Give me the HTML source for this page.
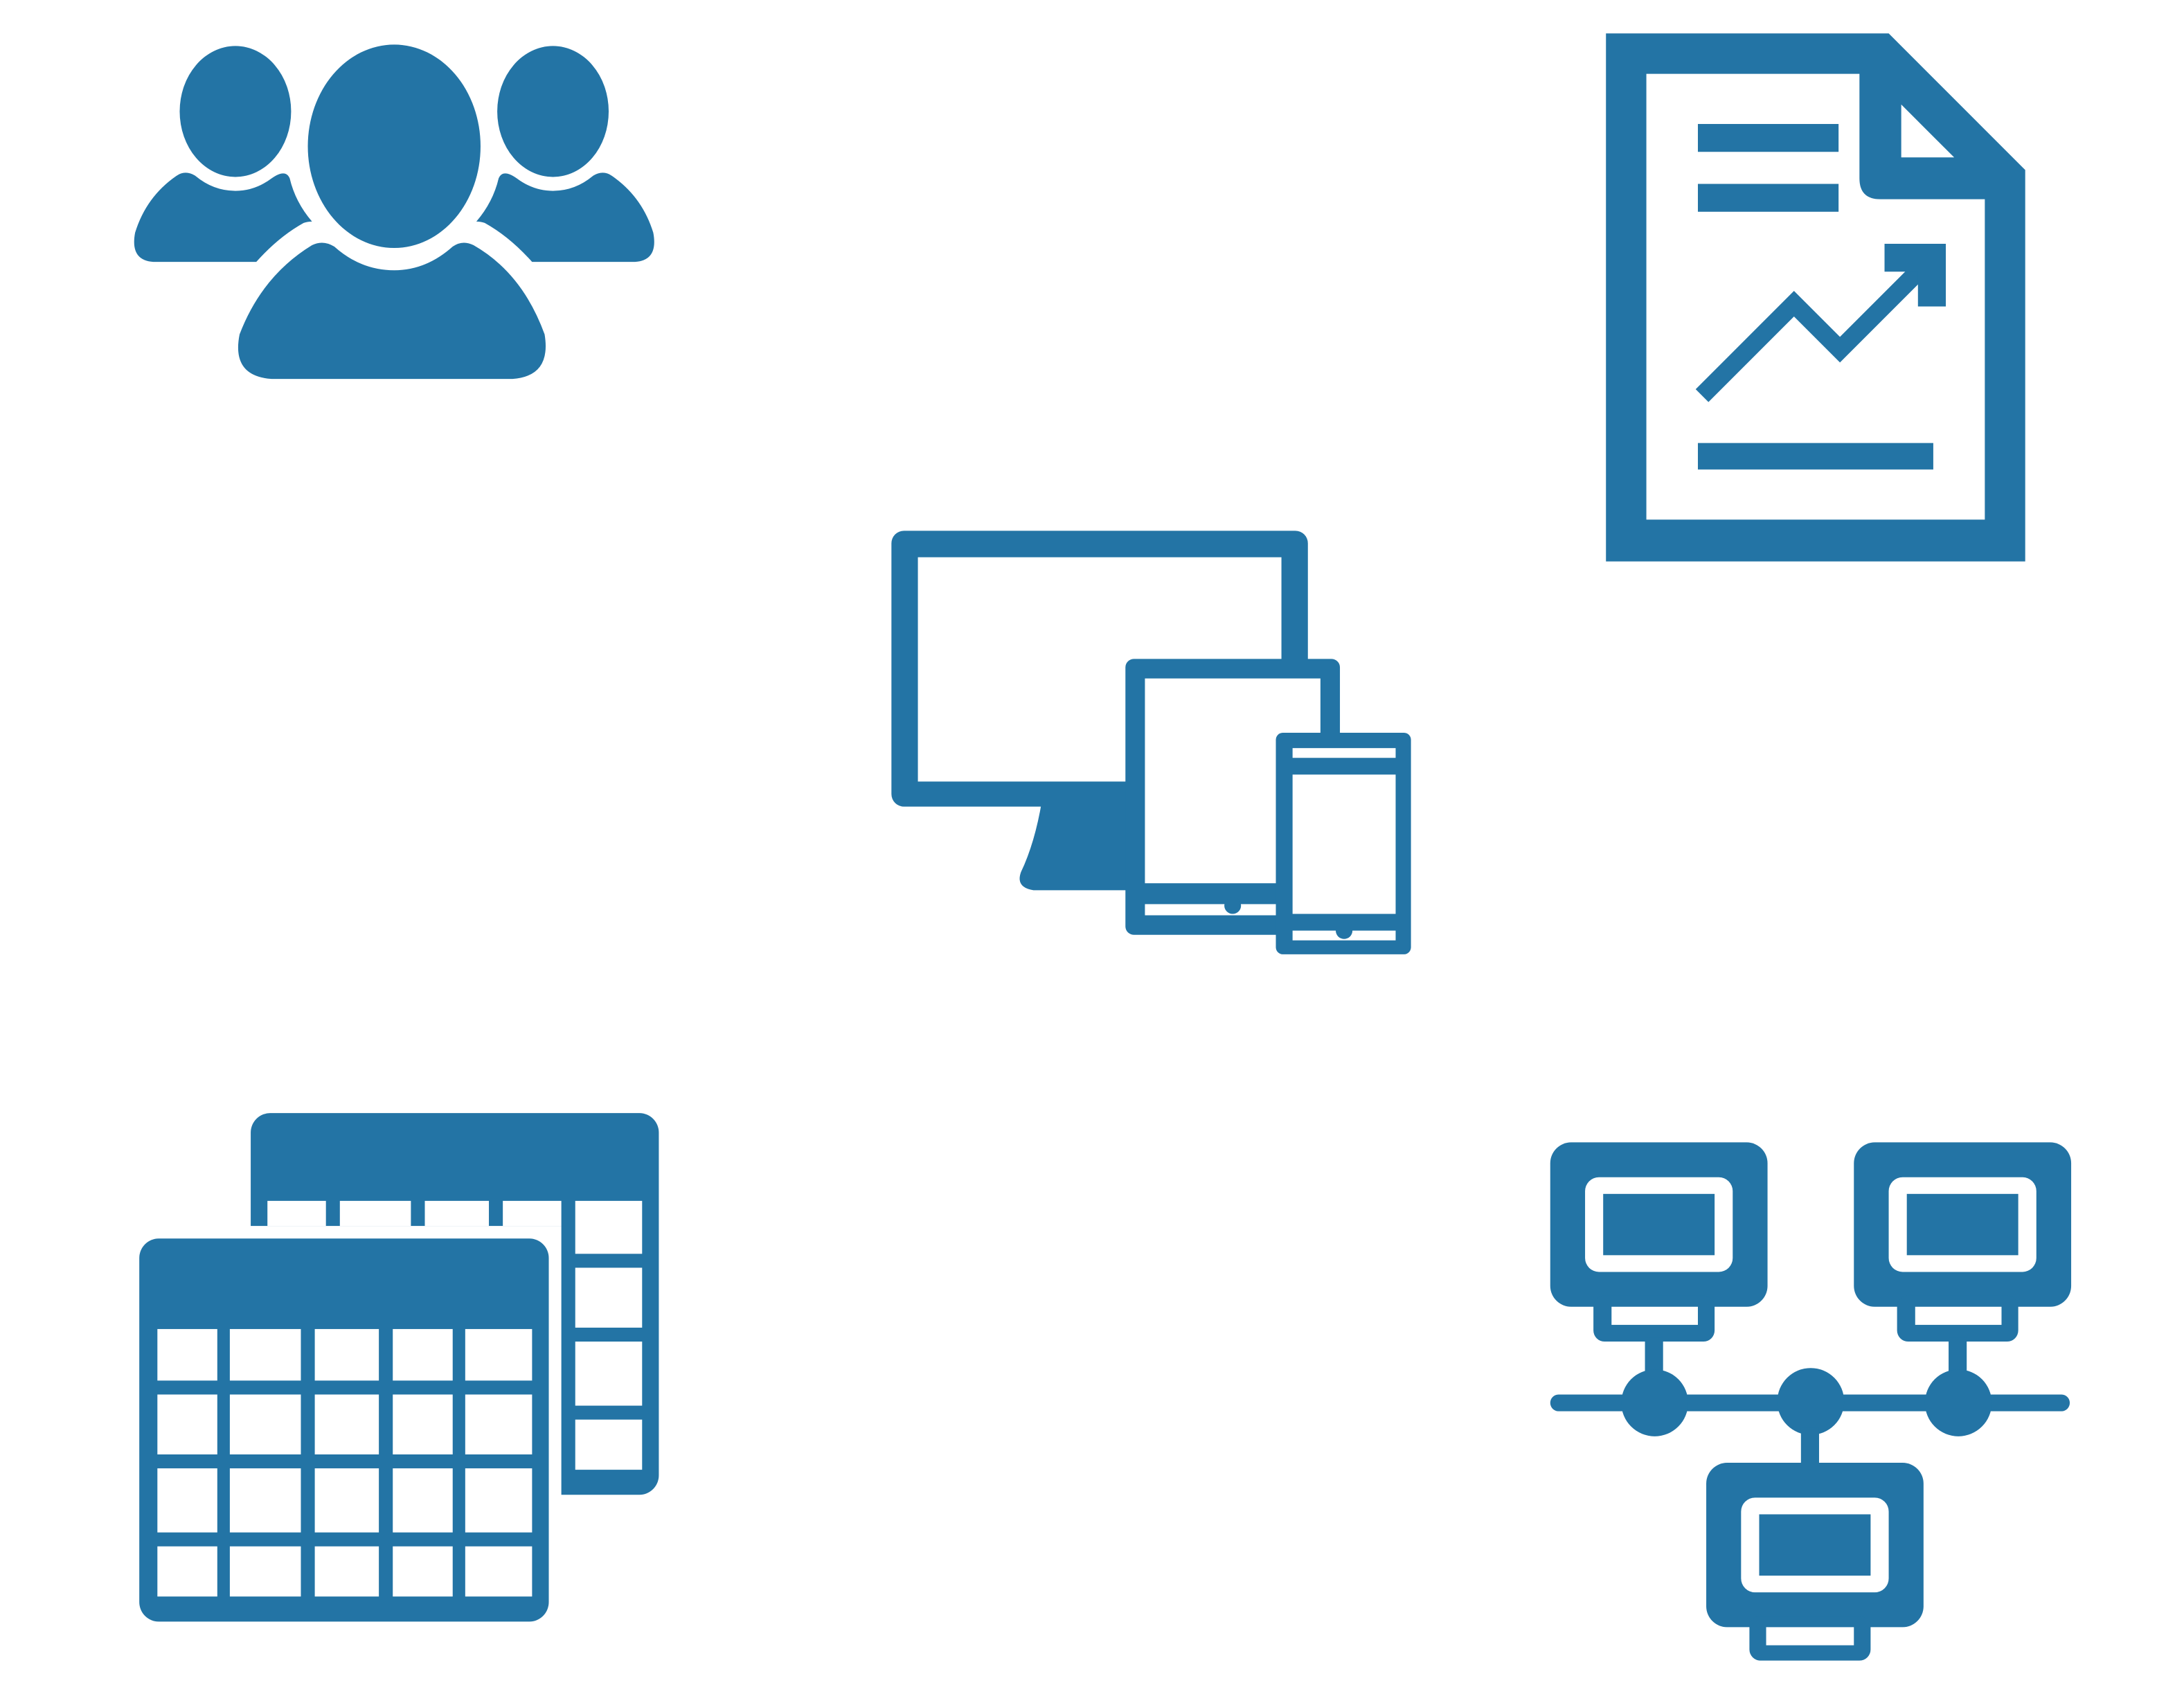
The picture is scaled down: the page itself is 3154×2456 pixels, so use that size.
<!DOCTYPE html>
<html><head><meta charset="utf-8"><style>
html,body{margin:0;padding:0;background:#fff;width:3154px;height:2456px;overflow:hidden}
svg{display:block}
</style></head><body>
<svg width="3154" height="2456" viewBox="0 0 1568 1221" xmlns="http://www.w3.org/2000/svg">
<g fill="#2374a5">
<!-- people -->
<ellipse cx="283" cy="105" rx="62" ry="73"/>
<path d="M195,272 H368 Q396,270 391,240 Q375,196 340,176 Q332,172 325,177 Q306,194 283,194 Q259,194 240,177 Q232,172 224,176 Q188,198 172,240 Q166,270 195,272Z"/>
<ellipse cx="169" cy="80" rx="40" ry="47"/>
<path d="M112,188 H184 Q200,170 218,160 Q221,159 224,159 Q212,145 208,128 Q205,121 195,128 Q183,137 169,137 Q153,137 140,126 Q133,122 127,126 Q105,141 97,167 Q93,188 112,188Z"/>
<g transform="translate(566,0) scale(-1,1)">
<ellipse cx="169" cy="80" rx="40" ry="47"/>
<path d="M112,188 H184 Q200,170 218,160 Q221,159 224,159 Q212,145 208,128 Q205,121 195,128 Q183,137 169,137 Q153,137 140,126 Q133,122 127,126 Q105,141 97,167 Q93,188 112,188Z"/>
</g>

<!-- document -->
<path d="M1153,24 H1356 L1454,122 V403 H1153Z"/>
<path fill="#fff" d="M1182,53 H1335 V128 Q1335,143 1350,143 H1425 V373 H1182Z"/>
<path fill="#fff" d="M1365,75 L1403,113 H1365Z"/>
<rect x="1219" y="89" width="101" height="20"/>
<rect x="1219" y="132" width="101" height="20"/>
<rect x="1219" y="318" width="169" height="19"/>
<polyline points="1222,284 1288,218 1321,251 1385,187" fill="none" stroke="#2374a5" stroke-width="13"/>
<polygon points="1353,175 1397,175 1397,220 1377,220 1377,195 1353,195"/>

<!-- devices -->
<rect x="640" y="381" width="299" height="198" rx="9"/>
<rect x="659" y="400" width="261" height="161" fill="#fff"/>
<path d="M748,575 Q743,605 733,626 Q729,637 742,639 H812 V575Z"/>
<rect x="808" y="473" width="154" height="198" rx="6"/>
<rect x="822" y="487" width="126" height="147" fill="#fff"/>
<rect x="822" y="649" width="100" height="8" fill="#fff"/>
<circle cx="885" cy="650" r="6"/>
<rect x="916" y="526" width="97" height="159" rx="5"/>
<rect x="928" y="537" width="74" height="7" fill="#fff"/>
<rect x="928" y="556" width="74" height="100" fill="#fff"/>
<rect x="928" y="668" width="74" height="7" fill="#fff"/>
<circle cx="965" cy="668" r="6"/>

<!-- calendars -->
<rect x="180" y="799" width="293" height="274" rx="14"/>
<g fill="#fff">
<rect x="192" y="862" width="42" height="18"/><rect x="244" y="862" width="51" height="18"/><rect x="305" y="862" width="46" height="18"/><rect x="361" y="862" width="42" height="18"/>
<rect x="413" y="862" width="48" height="38"/><rect x="413" y="910" width="48" height="43"/><rect x="413" y="963" width="48" height="46"/><rect x="413" y="1019" width="48" height="36"/>
<rect x="170" y="880" width="233" height="200"/>
</g>
<rect x="100" y="889" width="294" height="275" rx="14"/>
<g fill="#fff">
<g id="r1"><rect x="113" y="954" width="43" height="37"/><rect x="165" y="954" width="51" height="37"/><rect x="226" y="954" width="46" height="37"/><rect x="282" y="954" width="43" height="37"/><rect x="334" y="954" width="48" height="37"/></g>
<g><rect x="113" y="1001" width="43" height="43"/><rect x="165" y="1001" width="51" height="43"/><rect x="226" y="1001" width="46" height="43"/><rect x="282" y="1001" width="43" height="43"/><rect x="334" y="1001" width="48" height="43"/></g>
<g><rect x="113" y="1054" width="43" height="46"/><rect x="165" y="1054" width="51" height="46"/><rect x="226" y="1054" width="46" height="46"/><rect x="282" y="1054" width="43" height="46"/><rect x="334" y="1054" width="48" height="46"/></g>
<g><rect x="113" y="1110" width="43" height="36"/><rect x="165" y="1110" width="51" height="36"/><rect x="226" y="1110" width="46" height="36"/><rect x="282" y="1110" width="43" height="36"/><rect x="334" y="1110" width="48" height="36"/></g>
</g>

<!-- network -->
<rect x="1113" y="1001" width="373" height="12" rx="6"/>
<g id="pc">
<rect x="1113" y="820" width="156" height="118" rx="15"/>
<rect x="1138" y="845" width="106" height="68" rx="10" fill="#fff"/>
<rect x="1151" y="857" width="80" height="44"/>
<rect x="1144" y="930" width="87" height="33" rx="8"/>
<rect x="1157" y="938" width="62" height="13" fill="#fff"/>
<rect x="1181" y="960" width="13" height="30"/>
<circle cx="1188" cy="1007" r="24"/>
</g>
<use href="#pc" transform="translate(218,0)"/>
<circle cx="1300" cy="1006" r="24"/>
<rect x="1293" y="1025" width="13" height="30"/>
<rect x="1225" y="1050" width="156" height="118" rx="15"/>
<rect x="1250" y="1075" width="106" height="68" rx="10" fill="#fff"/>
<rect x="1263" y="1087" width="80" height="44"/>
<rect x="1256" y="1160" width="87" height="32" rx="8"/>
<rect x="1268" y="1168" width="63" height="13" fill="#fff"/>
</g>
</svg>
</body></html>
